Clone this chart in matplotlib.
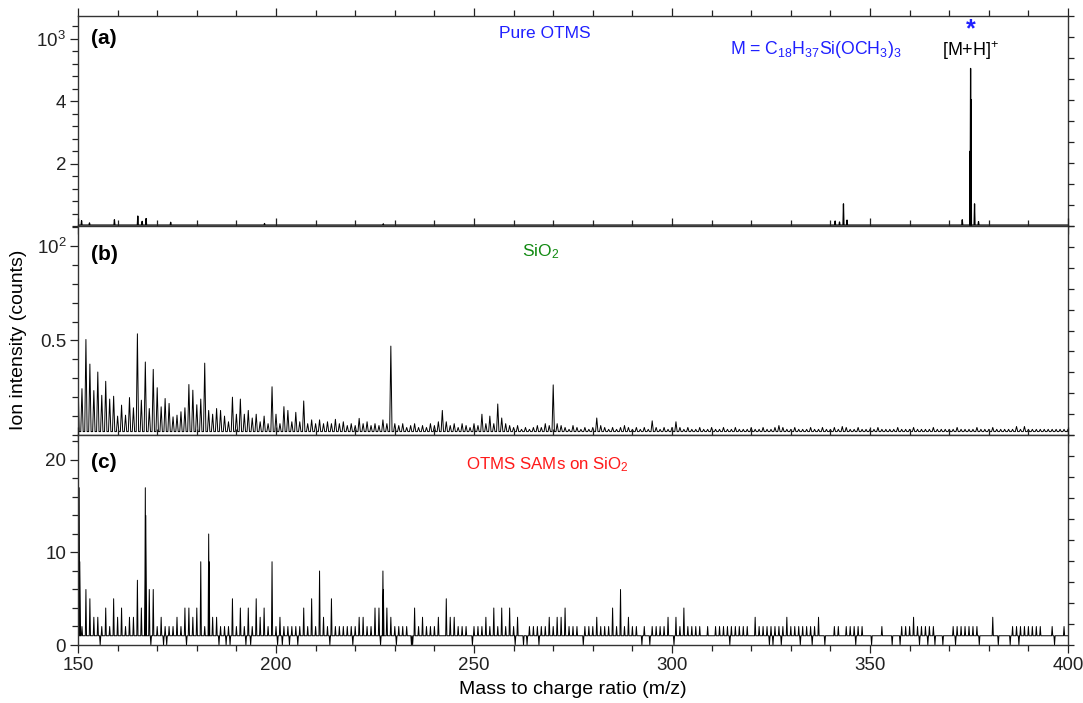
import numpy as np
import matplotlib
matplotlib.use("Agg")
import matplotlib.pyplot as plt
from matplotlib.ticker import MultipleLocator, FixedLocator

plt.rcParams['font.family'] = ['Liberation Sans', 'DejaVu Sans']
plt.rcParams['mathtext.fontset'] = 'custom'
plt.rcParams['mathtext.rm'] = 'Liberation Sans'
plt.rcParams['mathtext.it'] = 'Liberation Sans:italic'
plt.rcParams['mathtext.bf'] = 'Liberation Sans:bold'
plt.rcParams['mathtext.default'] = 'regular'

# ---- panel (a): pure OTMS, peak list (m/z, counts x10^2)
a_mass = [150.9, 152.9, 159.2, 165.1, 166.2, 167.2, 173.4, 197.1, 227.1,
          341.2, 342.3, 343.3, 344.2, 373.3, 375.3, 375.4, 375.5, 376.4, 377.4]
a_val = [0.17, 0.10, 0.20, 0.32, 0.15, 0.24, 0.12, 0.08, 0.07,
         0.16, 0.13, 0.71, 0.19, 0.20, 2.4, 5.05, 4.05, 0.71, 0.14]
a_base = 0.03

# ---- panel (b): SiO2, one value per nominal mass 150..400
b_mass = np.arange(150, 401)
b_val = [0.31, 0.245, 0.505, 0.375, 0.235, 0.333, 0.21, 0.284, 0.19, 0.205,
         0.10, 0.158, 0.105, 0.198, 0.144, 0.535, 0.184, 0.386, 0.14, 0.347,
         0.25, 0.149, 0.193, 0.167, 0.096, 0.105, 0.123, 0.144, 0.267, 0.237,
         0.16, 0.19, 0.38, 0.13, 0.11, 0.14, 0.13, 0.10, 0.07, 0.20,
         0.11, 0.19, 0.11, 0.13, 0.09, 0.11, 0.07, 0.10, 0.06, 0.255,
         0.11, 0.06, 0.15, 0.13, 0.07, 0.12, 0.07, 0.18, 0.06, 0.08,
         0.06, 0.08, 0.06, 0.07, 0.06, 0.083, 0.06, 0.07, 0.05, 0.06,
         0.05, 0.088, 0.06, 0.07, 0.05, 0.06, 0.05, 0.08, 0.06, 0.47,
         0.06, 0.05, 0.06, 0.04, 0.05, 0.06, 0.04, 0.05, 0.04, 0.06,
         0.05, 0.07, 0.13, 0.07, 0.05, 0.06, 0.04, 0.06, 0.05, 0.04,
         0.06, 0.05, 0.11, 0.06, 0.10, 0.06, 0.164, 0.09, 0.06, 0.05,
         0.04, 0.05, 0.03, 0.04, 0.03, 0.04, 0.05, 0.04, 0.06, 0.05,
         0.265, 0.06, 0.05, 0.04, 0.03, 0.05, 0.04, 0.03, 0.04, 0.03,
         0.04, 0.09, 0.05, 0.04, 0.03, 0.04, 0.03, 0.04, 0.05, 0.04,
         0.03, 0.04, 0.03, 0.04, 0.03, 0.075, 0.04, 0.03, 0.04, 0.03,
         0.04, 0.07, 0.04, 0.03, 0.04, 0.03, 0.03, 0.04, 0.03, 0.03,
         0.04, 0.03, 0.03, 0.04, 0.03, 0.03, 0.04, 0.03, 0.03, 0.03,
         0.04, 0.03, 0.03, 0.04, 0.03, 0.03, 0.04, 0.05, 0.04, 0.03,
         0.03, 0.04, 0.03, 0.03, 0.03, 0.04, 0.03, 0.03, 0.04, 0.03,
         0.03, 0.04, 0.03, 0.045, 0.04, 0.03, 0.03, 0.04, 0.03, 0.03,
         0.03, 0.03, 0.04, 0.03, 0.03, 0.03, 0.03, 0.04, 0.03, 0.03,
         0.03, 0.04, 0.03, 0.03, 0.03, 0.03, 0.04, 0.03, 0.03, 0.03,
         0.03, 0.03, 0.04, 0.03, 0.03, 0.03, 0.03, 0.04, 0.03, 0.03,
         0.03, 0.04, 0.03, 0.03, 0.03, 0.03, 0.03, 0.045, 0.03, 0.045,
         0.03, 0.03, 0.03, 0.03, 0.03, 0.03, 0.03, 0.03, 0.03, 0.03,
         0.03]
b_base = 0.018

# ---- panel (c): OTMS SAMs on SiO2 (counts, baseline 1)
c_base = 1
c_peak_mass = [150.3, 152, 153, 154, 155, 157, 159, 160, 161, 163, 164, 165, 166, 167,
               168, 169, 171, 175, 177, 178, 179, 180, 181, 183, 184, 185, 189, 191,
               193, 195, 196, 197, 199, 201, 207, 209, 211, 212, 214, 221, 222, 225,
               226, 227, 228, 229, 235, 237, 241, 243, 244, 245, 253, 255, 257, 259,
               261, 269, 271, 272, 273, 281, 285, 287, 289, 299, 301, 303, 321, 329,
               337, 361, 381]
c_peak_val = [17, 6, 5, 3, 3, 4, 5, 3, 4, 3, 3, 7, 4, 17,
              6, 6, 3, 3, 4, 4, 3, 4, 9, 12, 3, 3, 5, 4,
              4, 5, 3, 4, 9, 3, 4, 5, 8, 3, 5, 3, 3, 4,
              4, 8, 4, 3, 4, 3, 3, 5, 3, 3, 3, 4, 4, 4,
              3, 3, 3, 3, 4, 3, 4, 6, 3, 3, 3, 4, 3, 3,
              3, 3, 3]
# side points on the tallest lines
c_shoulder_mass = [150.45, 167.12, 183.12, 227.12]
c_shoulder_val = [9, 14, 9, 6]
c_two = [151, 156, 158, 162, 170, 172, 173, 174, 176, 182, 186, 187, 188, 190,
         192, 194, 198, 200, 202, 203, 204, 205, 206, 208, 210, 213, 215, 216, 217,
         218, 219, 220, 223, 224, 230, 231, 232, 233, 236, 238, 239, 240, 246, 247,
         248, 250, 251, 252, 254, 256, 258, 260, 264, 265, 266, 267, 268, 270, 274,
         275, 276, 278, 279, 280, 282, 283, 284, 286, 288, 290, 291, 293, 295, 296,
         297, 298, 302, 304, 305, 306, 307, 309, 311, 312, 313, 314, 315, 316, 317,
         318, 319, 322, 323, 324, 325, 326, 327, 328, 330, 331, 332, 333, 334, 335,
         336, 341, 342, 344, 345, 346, 347, 348, 353, 358, 359, 360, 362, 363, 364,
         365, 366, 371, 372, 373, 374, 375, 376, 377, 386, 387, 388, 389, 390, 391,
         392, 393, 396, 399]
c_zero = [155.6, 168.4, 171.6, 172.4, 177.4, 185.6, 187.4, 188.4, 192.4, 193.6,
          200.4, 201.6, 203.4, 205.5, 213.6, 219.4, 226.4, 230.4, 234.2, 234.5,
          249.6, 260.4, 262.5, 263.4, 266.4, 277.6, 292.4, 294.4, 300.5, 314.6,
          324.6, 325.5, 327.6, 332.4, 335.4, 338.6, 346.4, 350.4, 355.6, 357.6,
          362.5, 364.6, 366.4, 368.4, 371.6, 377.6, 382.4, 385.4, 387.6, 396.6]


def spikes(masses, values, base, w):
    order = np.argsort(masses)
    xs, ys = [150.0], [base]
    for i in order:
        m = masses[i]
        xs += [m - w, m, m + w]
        ys += [base, values[i], base]
    xs.append(400.0)
    ys.append(base)
    return xs, ys


W, H = 1083, 703
fig = plt.figure(figsize=(W / 100, H / 100), dpi=100)
L, R = 78 / W, 1068 / W
rows = [(15.7, 226), (226, 435), (435, 645)]
axes = []
for top, bot in rows:
    axes.append(fig.add_axes([L, 1 - bot / H, R - L, (bot - top) / H]))
ax_a, ax_b, ax_c = axes

# panel a
xa, ya = spikes(a_mass, a_val, a_base, 0.12)
ax_a.plot(xa, ya, color='black', lw=0.9)
ax_a.set_ylim(0, 6.74)
ax_a.yaxis.set_major_locator(FixedLocator([2, 4, 6]))
ax_a.set_yticklabels(['2', '4', '$10^3$'])
ax_a.yaxis.set_minor_locator(MultipleLocator(0.4))

# panel b
xb, yb = spikes(list(b_mass), b_val, b_base, 0.3)
ax_b.plot(xb, yb, color='black', lw=0.7)
ax_b.set_ylim(0, 1.105)
ax_b.yaxis.set_major_locator(FixedLocator([0.5, 1.0]))
ax_b.set_yticklabels(['0.5', '$10^2$'])
ax_b.yaxis.set_minor_locator(MultipleLocator(0.1))

# panel c
cdict = {}
for m in c_two:
    cdict[m] = 2
for m, v in zip(c_peak_mass, c_peak_val):
    cdict[m] = v
for m, v in zip(c_shoulder_mass, c_shoulder_val):
    cdict[m] = v
for m in c_zero:
    cdict[m] = 0
cm = list(cdict.keys())
cv = [cdict[k] for k in cm]
xc, yc = spikes(cm, cv, c_base, 0.15)
ax_c.plot(xc, yc, color='black', lw=0.7)
ax_c.set_ylim(0, 22.7)
ax_c.yaxis.set_major_locator(FixedLocator([0, 10, 20]))
ax_c.yaxis.set_minor_locator(MultipleLocator(2))

for ax in axes:
    ax.set_xlim(150, 400)
    ax.xaxis.set_major_locator(MultipleLocator(50))
    ax.xaxis.set_minor_locator(MultipleLocator(10))
    ax.tick_params(which='both', direction='out', top=True, bottom=True,
                   labelsize=13.5, colors='#222222', width=0.9)
    ax.tick_params(which='major', length=5.5, pad=3)
    ax.tick_params(which='minor', length=4)
    for s in ax.spines.values():
        s.set_linewidth(1.0)
        s.set_color('#333333')
    tw = ax.twinx()
    tw.set_ylim(0, 1)
    tw.yaxis.set_major_locator(FixedLocator(np.linspace(0, 1, 11)))
    tw.tick_params(axis='y', direction='out', length=4.5, width=0.9,
                   labelright=False, colors='#222222')
    for s in tw.spines.values():
        s.set_visible(False)
ax_a.tick_params(axis='x', labelbottom=False)
ax_b.tick_params(axis='x', labelbottom=False)


def ftext(x, y, s, **kw):
    fig.text(x / W, 1 - y / H, s, ha=kw.pop('ha', 'center'), va=kw.pop('va', 'center'), **kw)


ftext(104, 38.5, '(a)', fontsize=15, fontweight='bold')
ftext(104, 254, '(b)', fontsize=15, fontweight='bold')
ftext(104, 463, '(c)', fontsize=15, fontweight='bold')
ftext(545, 34, 'Pure OTMS', fontsize=12.5, color='#2020ff')
ftext(730, 50, 'M = C$_{18}$H$_{37}$Si(OCH$_3$)$_3$', fontsize=12.7, color='#2020ff', ha='left')
ftext(971, 29, '*', fontsize=18, color='#2020ff', fontweight='bold')
ftext(971, 51, '[M+H]$^{+}$', fontsize=13, color='black')
ftext(541, 252, 'SiO$_2$', fontsize=12.5, color='#128a12')
ftext(547, 465, 'OTMS SAMs on SiO$_2$', fontsize=12.2, color='#ff1a1a')
ftext(19, 340, 'Ion intensity (counts)', fontsize=14, rotation=90)
ftext(573, 690, 'Mass to charge ratio (m/z)', fontsize=14)

fig.savefig('out.png', dpi=100)
